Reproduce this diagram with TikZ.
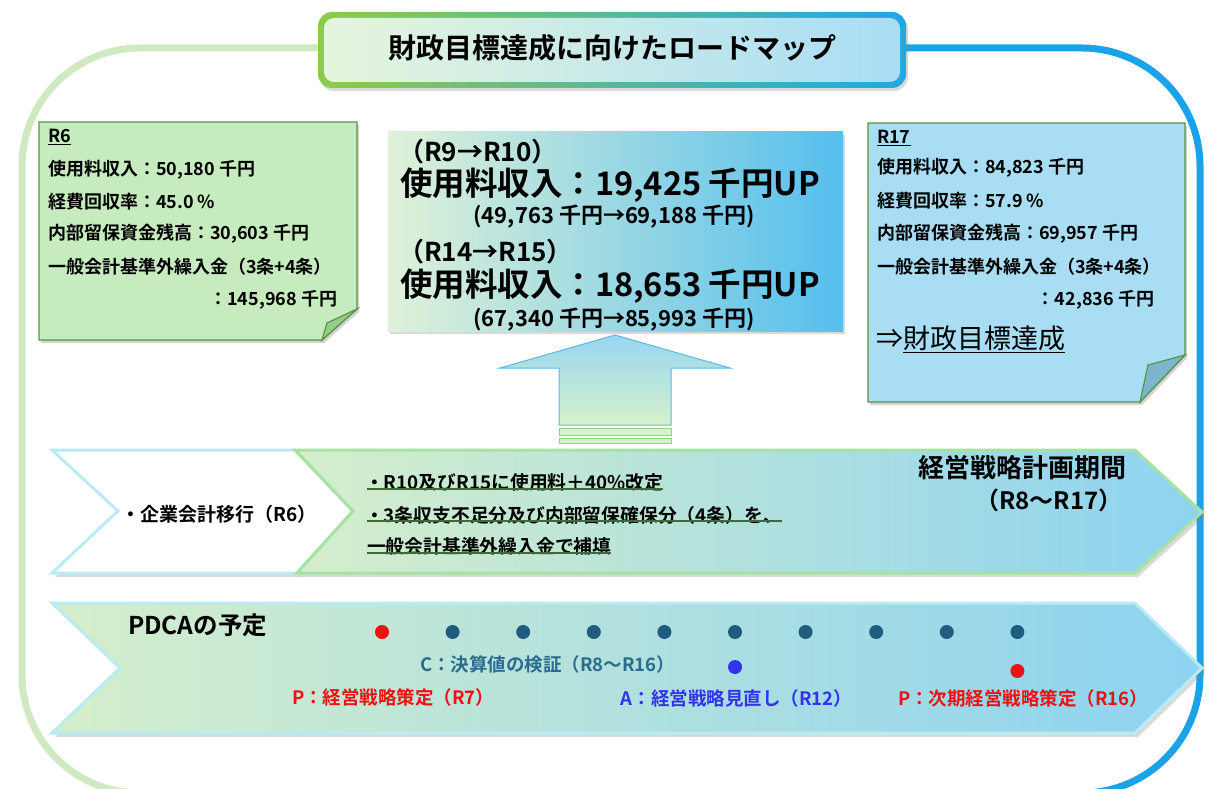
\documentclass[tikz,border=0pt]{standalone}
\usepackage{fontspec}
\setmainfont{Noto Sans CJK JP}[BoldFont={Noto Sans CJK JP Bold}]
\usetikzlibrary{shadows,calc}
\newcommand\fsz[1]{\fontsize{#1}{#1}\selectfont}
\definecolor{framegreen}{HTML}{CFEAC2}
\definecolor{frameblue}{HTML}{1AA3E8}
\definecolor{tgreen}{HTML}{8CCB4A}
\definecolor{tblue}{HTML}{22A6E6}
\definecolor{tfillL}{HTML}{E6F5DD}
\definecolor{tfillR}{HTML}{A9DDF5}
\definecolor{midL}{HTML}{E0F1D8}
\definecolor{midM}{HTML}{B9E3E8}
\definecolor{midR}{HTML}{55BFEE}
\definecolor{noteG}{HTML}{C6EBBF}
\definecolor{foldG}{HTML}{98CC86}
\definecolor{noteB}{HTML}{A8DDF4}
\definecolor{foldB}{HTML}{7DB5CF}
\definecolor{noteborder}{HTML}{5A9640}
\definecolor{arrTop}{HTML}{98D6F2}
\definecolor{arrBot}{HTML}{D6F2CA}
\definecolor{arrBorder}{HTML}{5DB8E2}
\definecolor{stripeB}{HTML}{8FD67A}
\definecolor{bandL}{HTML}{D5EECC}
\definecolor{bandR}{HTML}{8DD3F1}
\definecolor{bandGborder}{HTML}{A6E3A0}
\definecolor{bandCborder}{HTML}{B8ECF2}
\definecolor{ulcol}{HTML}{3D6B35}
\definecolor{dotc}{HTML}{1F5C7E}
\definecolor{ccol}{HTML}{2B6C8E}
\definecolor{pred}{HTML}{EE1111}
\definecolor{ablue}{HTML}{3333EE}
\tikzset{
  note/.style={line width=1.4pt, draw=noteborder, drop shadow={opacity=0.35, shadow xshift=2pt, shadow yshift=-3pt}},
  notetxt/.style={anchor=west, font=\bfseries\fsz{18}},
  bandshadow/.style={drop shadow={opacity=0.3, shadow xshift=3pt, shadow yshift=-4pt}},
  ln/.style={anchor=west, font=\bfseries\fsz{18.8}},
  uline/.style={ulcol, line width=1.3pt},
  dot/.style={circle, minimum size=14pt, fill=dotc},
  lbl/.style={font=\bfseries\fsz{18.5}},
}
\begin{document}
\begin{tikzpicture}[x=1pt, y=-1pt, every node/.style={inner sep=0pt, outer sep=0pt}]
\useasboundingbox (0,0) rectangle (1208,789);
\clip (0,0) rectangle (1208,789);
% outer frame
\draw[line width=7pt, framegreen, rounded corners=118pt] (420,48) -- (22,48) -- (22,793) -- (612,793);
\draw[line width=7pt, frameblue, rounded corners=118pt] (800,48) -- (1200,48) -- (1200,793) -- (612,793);
% title
\path[left color=tgreen, right color=tblue, rounded corners=14pt, drop shadow={opacity=0.3, shadow xshift=2pt, shadow yshift=-3pt}] (318,12) rectangle (906,88);
\path[left color=tfillL, right color=tfillR, rounded corners=10pt] (324,18) rectangle (900,82);
\node[font=\bfseries\fsz{28}] (title) at (612,48) {財政目標達成に向けたロードマップ};
% left note R6
\path[note, fill=noteG] (39,122) -- (357,122) -- (357,309) -- (322,340) -- (39,340) -- cycle;
\path[fill=foldG, draw=noteborder, line width=1.2pt] (357,309) -- (327,323) -- (322,340) -- cycle;
\node[notetxt] (r6) at (48,137) {\underline{R6}};
\node[notetxt] (r6a) at (48,170) {使用料収入：50,180 千円};
\node[notetxt] (r6b) at (48,202) {経費回収率：45.0 \%};
\node[notetxt] (r6c) at (48,234) {内部留保資金残高：30,603 千円};
\node[notetxt] (r6d) at (48,267) {一般会計基準外繰入金（3条+4条）};
\node[notetxt, anchor=east] (r6e) at (337,300) {：145,968 千円};
% right note R17
\path[note, fill=noteB] (868,123) -- (1185,123) -- (1185,355) -- (1140,402) -- (868,402) -- cycle;
\path[fill=foldB, draw=noteborder, line width=1.2pt] (1185,355) -- (1148,365) -- (1140,402) -- cycle;
\node[notetxt] (r17) at (877,138) {\underline{R17}};
\node[notetxt] (r17a) at (877,168) {使用料収入：84,823 千円};
\node[notetxt] (r17b) at (877,201) {経費回収率：57.9 \%};
\node[notetxt] (r17c) at (877,234) {内部留保資金残高：69,957 千円};
\node[notetxt] (r17d) at (877,267) {一般会計基準外繰入金（3条+4条）};
\node[notetxt, anchor=east] (r17e) at (1154,300) {：42,836 千円};
\node[anchor=west, font=\fsz{27}] (goal) at (876,339) {⇒\underline{財政目標達成}};
% middle box
\path[left color=midL, middle color=midM, right color=midR, drop shadow={opacity=0.3, shadow xshift=2pt, shadow yshift=-3pt}] (388,132) rectangle (843,331);
\node[anchor=west, font=\bfseries\fsz{26}] (m1) at (398,152) {（R9→R10）};
\node[anchor=west, font=\bfseries\fsz{32.5}] (m2) at (400,185) {使用料収入：19,425 千円UP};
\node[font=\bfseries\fsz{22}] (m3) at (614,217) {(49,763 千円→69,188 千円)};
\node[anchor=west, font=\bfseries\fsz{26}] (m4) at (398,252) {（R14→R15）};
\node[anchor=west, font=\bfseries\fsz{32.5}] (m5) at (400,286) {使用料収入：18,653 千円UP};
\node[font=\bfseries\fsz{22}] (m6) at (614,320) {(67,340 千円→85,993 千円)};
% up arrow
\path[draw=arrBorder, line width=1pt, top color=arrTop, bottom color=arrBot] (615,335) -- (730,368) -- (671,368) -- (671,425) -- (559,425) -- (559,368) -- (500,368) -- cycle;
\path[draw=stripeB, fill=arrBot, line width=1pt] (559,428) rectangle (671,435);
\path[draw=stripeB, fill=arrBot, line width=1pt] (559,438) rectangle (671,443);
% band 1
\path[bandshadow, draw=bandCborder, line width=3pt, fill=white] (52,450) -- (295,450) -- (353,511) -- (297,573) -- (52,573) -- (118,511) -- cycle;
\path[bandshadow, draw=bandGborder, line width=3pt, left color=bandL, right color=bandR] (295,450) -- (1135,450) -- (1202,512) -- (1135,573) -- (297,573) -- (353,511) -- cycle;
\node[font=\bfseries\fsz{19}] (kigyo) at (219,514) {・企業会計移行（R6）};
\node[ln] (l1) at (365,482) {・R10及びR15に使用料＋40\%改定};
\node[ln] (l2) at (365,515) {・3条収支不足分及び内部留保確保分（4条）を、};
\node[ln] (l3) at (367,546) {一般会計基準外繰入金で補填};
\draw[uline] (367,489) -- (l1.east |- 0,489);
\draw[uline] (367,521) -- (l2.east |- 0,521);
\draw[uline] (367,553) -- (l3.east |- 0,553);
\node[font=\bfseries\fsz{26}] (kikan) at (1022,468) {経営戦略計画期間};
\node[font=\bfseries\fsz{24}] (kikan2) at (1049,500) {（R8～R17）};
% band 2
\path[bandshadow, draw=bandCborder, line width=3pt, left color=bandL, right color=bandR] (52,603) -- (1135,603) -- (1202,668) -- (1135,733) -- (52,733) -- (120,668) -- cycle;
\node[anchor=west, font=\bfseries\fsz{24.5}] (pdca) at (128,625) {PDCAの予定};
\node[dot, fill=pred] (d7) at (382,632) {};
\node[dot] (d8) at (452.6,632) {};
\node[dot] (d9) at (523.2,632) {};
\node[dot] (d10) at (593.8,632) {};
\node[dot] (d11) at (664.4,632) {};
\node[dot] (d12) at (735,632) {};
\node[dot] (d13) at (805.6,632) {};
\node[dot] (d14) at (876.2,632) {};
\node[dot] (d15) at (946.8,632) {};
\node[dot] (d16) at (1017.4,632) {};
\node[dot, fill=ablue] (da) at (735,667) {};
\node[dot, fill=pred] (dp) at (1017.4,671) {};
\node[lbl, anchor=west, text=ccol] (lc) at (420,664) {C：決算値の検証（R8～R16）};
\node[lbl, anchor=west, text=pred] (lp7) at (292,697) {P：経営戦略策定（R7）};
\node[lbl, anchor=east, text=ablue] (la) at (852,698) {A：経営戦略見直し（R12）};
\node[lbl, anchor=west, text=pred] (lp16) at (898,698) {P：次期経営戦略策定（R16）};
\end{tikzpicture}
\end{document}
